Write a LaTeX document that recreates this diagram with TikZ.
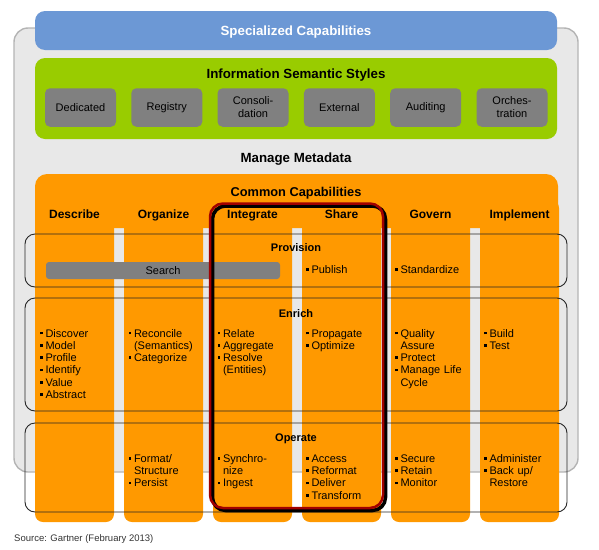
\documentclass[tikz,border=0pt]{standalone}
\usepackage{fontspec}
\setmainfont{Liberation Sans}
\definecolor{pgray}{HTML}{E8E8E8}
\definecolor{pborder}{HTML}{B4B4B4}
\definecolor{sblue}{HTML}{6C98D5}
\definecolor{sgreen}{HTML}{99CC00}
\definecolor{sgray}{HTML}{808080}
\definecolor{corange}{HTML}{FF9900}
\definecolor{fred}{HTML}{A00000}
\newcommand\fbody{\fontsize{11pt}{12.3pt}\selectfont}
\newcommand\fhead{\fontsize{12pt}{14pt}\selectfont\bfseries}
\newcommand\frow{\fontsize{11pt}{13pt}\selectfont\bfseries}
\newcommand\ftitle{\fontsize{13.3pt}{15pt}\selectfont\bfseries}
\newcommand\fsrc{\fontsize{9.5pt}{11pt}\selectfont}
\newcommand\bul{\makebox[5.3pt][l]{\rule[2.7pt]{2.6pt}{2.6pt}}}
\newcommand\ind{\hspace*{5.3pt}}
\tikzset{
  stylebox/.style={fill=sgray, rounded corners=5pt, minimum width=71pt, minimum height=38.5pt, inner sep=0pt, align=center, font=\fbody},
  colbox/.style={fill=corange, rounded corners=8pt, minimum width=79pt, minimum height=322pt, inner sep=0pt},
  colhead/.style={anchor=base, inner sep=0pt, font=\fhead},
  rowtitle/.style={anchor=base, inner sep=0pt, font=\frow},
  items/.style={anchor=base west, inner sep=0pt, text width=82pt, align=left, font=\fbody},
  rowframe/.style={draw=black!85, line width=0.9pt, rounded corners=10pt, inner sep=0pt, minimum width=542pt},
  bigtitle/.style={anchor=base, inner sep=0pt, font=\ftitle},
}
\begin{document}
\begin{tikzpicture}[x=1pt,y=-1pt]
\useasboundingbox (0,0) rectangle (599,549);
% gray panel
\node[fill=pgray, draw=pborder, line width=1.4pt, rounded corners=14pt, minimum width=564pt, minimum height=444pt, inner sep=0pt] (panel) at (296,250) {};
% specialized capabilities
\node[fill=sblue, rounded corners=10pt, minimum width=522pt, minimum height=39pt, inner sep=0pt] (spec) at (296,30.5) {};
\node[bigtitle, text=white] (spect) at (296,35.2) {Specialized Capabilities};
% information semantic styles
\node[fill=sgreen, rounded corners=10pt, minimum width=522pt, minimum height=81pt, inner sep=0pt] (iss) at (296,98.5) {};
\node[bigtitle] (isst) at (296,78.3) {Information Semantic Styles};
\node[stylebox] (ded) at (80.5,107.5) {Dedicated};
\node[stylebox] (reg) at (166.8,107.5) {Registry};
\node[stylebox, font=\fontsize{11pt}{13pt}\selectfont] (con) at (253,107.5) {Consoli-\\dation};
\node[stylebox] (ext) at (339.4,107.5) {External};
\node[stylebox] (aud) at (425.7,107.5) {Auditing};
\node[stylebox, font=\fontsize{11pt}{13pt}\selectfont] (orc) at (512,107.5) {Orches-\\tration};
\node[bigtitle] (mm) at (296,162.5) {Manage Metadata};
% common capabilities
\foreach \i in {0,...,5} {
  \pgfmathsetmacro\cx{74.5+89*\i}
  \node[colbox] (col\i) at (\cx,361) {};
}
\node[fill=corange, rounded corners=12pt, minimum width=523pt, minimum height=54pt, inner sep=0pt] (band) at (296.5,201) {};
\node[bigtitle, font=\fontsize{12.8pt}{15pt}\selectfont\bfseries] (cct) at (296,196) {Common Capabilities};
\foreach \i/\name in {0/Describe,1/Organize,2/Integrate,3/Share,4/Govern,5/Implement} {
  \pgfmathsetmacro\cx{74.5+89*\i}
  \node[colhead] (head\i) at (\cx,218.7) {\name};
}
% rows
\node[rowframe, minimum height=53pt] (prov) at (296,260.5) {};
\node[rowframe, minimum height=113pt] (enr) at (296,354.5) {};
\node[rowframe, minimum height=89pt] (ope) at (296,467.5) {};
\node[rowtitle] (provt) at (296,251.7) {Provision};
\node[rowtitle] (enrt) at (296,317) {Enrich};
\node[rowtitle] (opet) at (296,441.7) {Operate};
% provision
\node[fill=sgray, rounded corners=3pt, minimum width=234pt, minimum height=17pt, inner sep=0pt, font=\fbody] (search) at (163,270.5) {Search};
\node[items] (pub) at (306,273.3) {\bul Publish};
\node[items] (std) at (395,273.3) {\bul Standardize};
% enrich
\node[items] (e0) at (40,337) {\bul Discover\\\bul Model\\\bul Profile\\\bul Identify\\\bul Value\\\bul Abstract};
\node[items] (e1) at (128.5,337) {\bul Reconcile\\\ind (Semantics)\\\bul Categorize};
\node[items] (e2) at (217.5,337) {\bul Relate\\\bul Aggregate\\\bul Resolve\\\ind (Entities)};
\node[items] (e3) at (306,337) {\bul Propagate\\\bul Optimize};
\node[items] (e4) at (395,337) {\bul Quality\\\ind Assure\\\bul Protect\\\bul Manage Life\\\ind Cycle};
\node[items] (e5) at (484,337) {\bul Build\\\bul Test};
% operate
\node[items] (o1) at (128.5,462.3) {\bul Format/\\\ind Structure\\\bul Persist};
\node[items] (o2) at (217.5,462.3) {\bul Synchro-\\\ind nize\\\bul Ingest};
\node[items] (o3) at (306,462.3) {\bul Access\\\bul Reformat\\\bul Deliver\\\bul Transform};
\node[items] (o4) at (395,462.3) {\bul Secure\\\bul Retain\\\bul Monitor};
\node[items] (o5) at (484,462.3) {\bul Administer\\\bul Back up/\\\ind Restore};
% highlight frame
\draw[black, line width=3.5pt, rounded corners=13pt] (212.5,206) rectangle (385.5,510.5);
\draw[fred, line width=2.5pt, rounded corners=13pt] (210,203.5) rectangle (383,508);
% source
\node[anchor=base west, inner sep=0pt, font=\fsrc, text=black!80] (src) at (14,541) {Source: Gartner (February 2013)};
\end{tikzpicture}
\end{document}
